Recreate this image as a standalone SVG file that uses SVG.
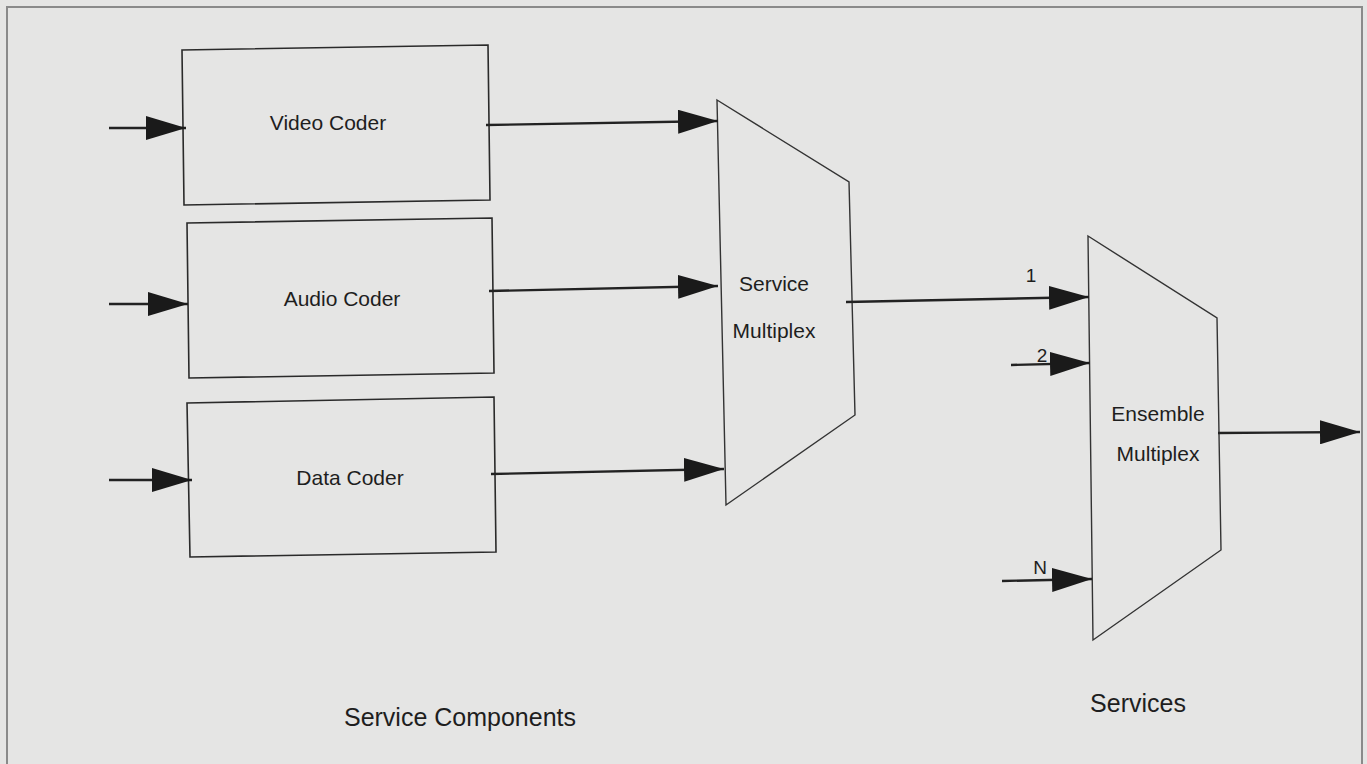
<svg xmlns="http://www.w3.org/2000/svg" width="1367" height="764" viewBox="0 0 1367 764">
<defs>
<style>
.bg{fill:#e5e5e4}
.frame{fill:none;stroke:#8a8a8a;stroke-width:2}
.box{fill:none;stroke:#2a2a2a;stroke-width:1.6}
.mux{fill:none;stroke:#333;stroke-width:1.4}
.conn{fill:none;stroke:#222;stroke-width:2.4}
.lbl{font-family:"Liberation Sans",Arial,sans-serif;font-size:21px;fill:#1e1e1e;text-anchor:middle}
.num{font-family:"Liberation Sans",Arial,sans-serif;font-size:19px;fill:#1e1e1e;text-anchor:middle}
.cap{font-family:"Liberation Sans",Arial,sans-serif;font-size:25px;fill:#1e1e1e;text-anchor:middle}
</style>
<marker id="ah" markerUnits="userSpaceOnUse" markerWidth="40" markerHeight="24" refX="40" refY="12" orient="auto">
<path d="M0,0 L40,12 L0,24 Z" fill="#1a1a1a"/>
</marker>
</defs>
<rect class="bg" x="0" y="0" width="1367" height="764"/>
<path class="frame" d="M7,764 L7,7 L1362,7 L1362,764"/>

<g id="video-coder">
<polygon class="box" points="182,50 488,45 490,200 184,205"/>
<text class="lbl" x="328" y="130">Video Coder</text>
</g>
<g id="audio-coder">
<polygon class="box" points="187,223 492,218 494,373 189,378"/>
<text class="lbl" x="342" y="306">Audio Coder</text>
</g>
<g id="data-coder">
<polygon class="box" points="187,403 494,397 496,552 190,557"/>
<text class="lbl" x="350" y="485">Data Coder</text>
</g>
<g id="service-multiplex">
<polygon class="mux" points="717,100 849,182 855,415 726,505"/>
<text class="lbl" x="774" y="291">Service</text>
<text class="lbl" x="774" y="338">Multiplex</text>
</g>
<g id="ensemble-multiplex">
<polygon class="mux" points="1088,236 1217,318 1221,550 1093,640"/>
<text class="lbl" x="1158" y="421">Ensemble</text>
<text class="lbl" x="1158" y="461">Multiplex</text>
</g>
<g id="captions">
<text class="cap" x="460" y="726">Service Components</text>
<text class="cap" x="1138" y="712">Services</text>
</g>

<g id="connectors">
<line class="conn" x1="109" y1="128" x2="186" y2="128" marker-end="url(#ah)"/>
<line class="conn" x1="109" y1="304" x2="188" y2="304" marker-end="url(#ah)"/>
<line class="conn" x1="109" y1="480" x2="192" y2="480" marker-end="url(#ah)"/>
<line class="conn" x1="486" y1="125" x2="718" y2="121" marker-end="url(#ah)"/>
<line class="conn" x1="489" y1="291" x2="718" y2="286" marker-end="url(#ah)"/>
<line class="conn" x1="491" y1="474" x2="724" y2="469" marker-end="url(#ah)"/>
<line class="conn" x1="846" y1="302" x2="1089" y2="297" marker-end="url(#ah)"/>
<line class="conn" x1="1011" y1="365" x2="1090" y2="363" marker-end="url(#ah)"/>
<line class="conn" x1="1002" y1="581" x2="1092" y2="579" marker-end="url(#ah)"/>
<line class="conn" x1="1218" y1="433" x2="1360" y2="432" marker-end="url(#ah)"/>
<text class="num" x="1031" y="282">1</text>
<text class="num" x="1042" y="362">2</text>
<text class="num" x="1040" y="574">N</text>
</g>
</svg>
